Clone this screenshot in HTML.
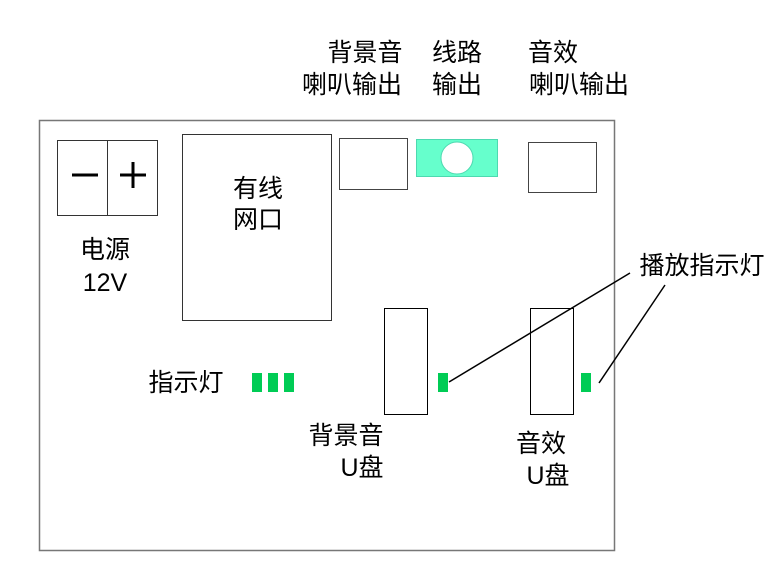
<!DOCTYPE html><html><head><meta charset="utf-8"><style>
body{margin:0;width:778px;height:564px;background:#fff;overflow:hidden}
</style></head><body>
<svg width="778" height="564" xmlns="http://www.w3.org/2000/svg" font-family="'Liberation Sans','Noto Sans CJK SC',sans-serif" font-size="25" fill="#000">
<rect x="39.5" y="120.5" width="575" height="430" fill="none" stroke="#777" stroke-width="1.5"/>
<rect x="57.5" y="140.5" width="100" height="75" fill="none" stroke="#333"/>
<line x1="107.5" y1="140" x2="107.5" y2="215" stroke="#333"/>
<line x1="72" y1="175" x2="98" y2="175" stroke="#000" stroke-width="3"/>
<line x1="120" y1="175" x2="146" y2="175" stroke="#000" stroke-width="3"/>
<line x1="133" y1="162" x2="133" y2="188" stroke="#000" stroke-width="3"/>
<rect x="182.5" y="134.5" width="149" height="186" fill="none" stroke="#333"/>
<rect x="339.5" y="138.5" width="68" height="51" fill="none" stroke="#444"/>
<rect x="416.5" y="139.5" width="81" height="37" fill="#66ffcc" stroke="#4dd9b0"/>
<circle cx="457" cy="158" r="16" fill="#fff" stroke="#4dd9b0"/>
<rect x="528.5" y="142.5" width="68" height="50" fill="none" stroke="#444"/>
<rect x="384.5" y="308.5" width="43" height="106" fill="none" stroke="#000"/>
<rect x="530.5" y="308.5" width="43" height="106" fill="none" stroke="#000"/>
<g fill="#00cc55"><rect x="438" y="373" width="10" height="19"/><rect x="581" y="373" width="10" height="19"/>
<rect x="252" y="373" width="10" height="19"/><rect x="268" y="373" width="10" height="19"/><rect x="284" y="373" width="10" height="19"/></g>
<line x1="449" y1="382" x2="630" y2="273" stroke="#000" stroke-width="1.5"/>
<line x1="599" y1="383" x2="665" y2="285" stroke="#000" stroke-width="1.5"/>
<text x="258" y="197" text-anchor="middle">有线</text>
<text x="258" y="228" text-anchor="middle">网口</text>
<text x="105" y="258" text-anchor="middle">电源</text>
<text x="105" y="291" text-anchor="middle">12V</text>
<text x="365" y="61" text-anchor="middle">背景音</text>
<text x="352" y="93" text-anchor="middle">喇叭输出</text>
<text x="457" y="61" text-anchor="middle">线路</text>
<text x="457" y="93" text-anchor="middle">输出</text>
<text x="553" y="61" text-anchor="middle">音效</text>
<text x="579" y="93" text-anchor="middle">喇叭输出</text>
<text x="702" y="274" text-anchor="middle">播放指示灯</text>
<text x="186" y="391" text-anchor="middle">指示灯</text>
<text x="346" y="444" text-anchor="middle">背景音</text>
<text x="362" y="476" text-anchor="middle">U盘</text>
<text x="541" y="452" text-anchor="middle">音效</text>
<text x="548" y="484" text-anchor="middle">U盘</text>
</svg>
</body></html>
